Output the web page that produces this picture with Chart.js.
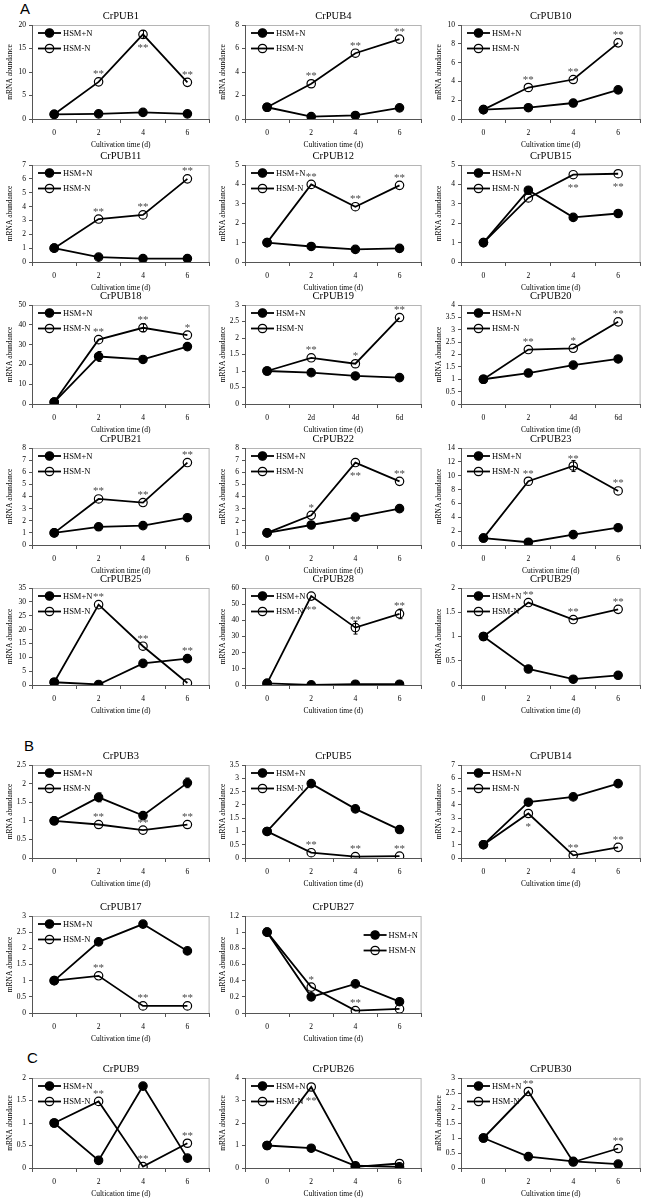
<!DOCTYPE html>
<html>
<head>
<meta charset="utf-8">
<script src="https://cdn.jsdelivr.net/npm/chart.js@4.4.1/dist/chart.umd.min.js"></script>
<style>
  body { margin: 0; background: #fff; }
  #page { position: relative; width: 647px; height: 1199px; overflow: hidden; background: #fff; }
  .panel { position: absolute; }
  .sec { position: absolute; font: 15px "Liberation Sans", Arial, sans-serif; line-height: 1; color: #000; }
</style>
</head>
<body>
<div id="page">
  <div class="sec" style="left:20px;top:1px">A</div>
  <div class="sec" style="left:24px;top:738px">B</div>
  <div class="sec" style="left:27px;top:1050px">C</div>
</div>
<script>
const days = ["0", "2", "4", "6"];
const days19 = ["0", "2d", "4d", "6d"];
const days20 = ["0", "2", "4d", "6d"];
const seriesNames = ["HSM+N", "HSM-N"];

// mean mRNA abundance, HSM+N (filled) and HSM-N (open)
const pub1Plus = [1, 1.1, 1.4, 1.1],     pub1Minus = [1, 7.9, 18, 7.8];
const pub4Plus = [1, 0.2, 0.3, 0.95],    pub4Minus = [1, 3, 5.6, 6.8];
const pub10Plus = [1, 1.2, 1.7, 3.1],    pub10Minus = [1, 3.35, 4.2, 8.1];
const pub11Plus = [1, 0.35, 0.25, 0.25], pub11Minus = [1, 3.1, 3.4, 6];
const pub12Plus = [1, 0.8, 0.65, 0.7],   pub12Minus = [1, 4, 2.85, 3.95];
const pub15Plus = [1, 3.7, 2.3, 2.5],    pub15Minus = [1, 3.3, 4.5, 4.55];
const pub18Plus = [1, 24, 22.5, 29],     pub18Minus = [1, 32.5, 38.5, 34.8];
const pub19Plus = [1, 0.95, 0.85, 0.8],  pub19Minus = [1, 1.4, 1.22, 2.62];
const pub20Plus = [1, 1.25, 1.57, 1.82], pub20Minus = [1, 2.2, 2.25, 3.32];
const pub21Plus = [1, 1.5, 1.6, 2.25],   pub21Minus = [1, 3.8, 3.5, 6.8];
const pub22Plus = [1, 1.65, 2.3, 3],     pub22Minus = [1, 2.45, 6.8, 5.25];
const pub23Plus = [1, 0.4, 1.5, 2.5],    pub23Minus = [1, 9.2, 11.4, 7.8];
const pub25Plus = [1, 0.2, 7.8, 9.5],    pub25Minus = [1, 29, 14, 0.7];
const pub28Plus = [1, 0.1, 0.5, 0.5],    pub28Minus = [1, 55, 35.5, 44];
const pub29Plus = [1, 0.33, 0.12, 0.2],  pub29Minus = [1, 1.7, 1.35, 1.56];
const pub3Plus = [1, 1.63, 1.14, 2.02],  pub3Minus = [1, 0.9, 0.75, 0.9];
const pub5Plus = [1, 2.8, 1.85, 1.07],   pub5Minus = [1, 0.2, 0.05, 0.07];
const pub14Plus = [1, 4.2, 4.6, 5.6],    pub14Minus = [1, 3.35, 0.2, 0.8];
const pub17Plus = [1, 2.2, 2.75, 1.92],  pub17Minus = [1, 1.15, 0.22, 0.22];
const pub27Plus = [1, 0.2, 0.36, 0.14],  pub27Minus = [1, 0.32, 0.03, 0.05];
const pub9Plus = [1, 0.17, 1.82, 0.22],  pub9Minus = [1, 1.48, 0.03, 0.55];
const pub26Plus = [1, 0.88, 0.1, 0.05],  pub26Minus = [1, 3.6, 0.05, 0.2];
const pub30Plus = [1, 0.38, 0.22, 0.13], pub30Minus = [1, 2.55, 0.2, 0.65];

// significance marks: [day index, mark, series (0 = +N, 1 = -N), above/below]
const pub1Sig = [[1, "**", 1, "up"], [2, "**", 1, "down"], [3, "**", 1, "up"]];
const pub4Sig = [[1, "**", 1, "up"], [2, "**", 1, "up"], [3, "**", 1, "up"]];
const pub10Sig = [[1, "**", 1, "up"], [2, "**", 1, "up"], [3, "**", 1, "up"]];
const pub11Sig = [[1, "**", 1, "up"], [2, "**", 1, "up"], [3, "**", 1, "up"]];
const pub12Sig = [[1, "**", 1, "up"], [2, "**", 1, "up"], [3, "**", 1, "up"]];
const pub15Sig = [[2, "**", 1, "down"], [3, "**", 1, "down"]];
const pub18Sig = [[1, "**", 1, "up"], [2, "**", 1, "up"], [3, "*", 1, "up"]];
const pub19Sig = [[1, "**", 1, "up"], [2, "*", 1, "up"], [3, "**", 1, "up"]];
const pub20Sig = [[1, "**", 1, "up"], [2, "*", 1, "up"], [3, "**", 1, "up"]];
const pub21Sig = [[1, "**", 1, "up"], [2, "**", 1, "up"], [3, "**", 1, "up"]];
const pub22Sig = [[1, "*", 1, "up"], [2, "**", 1, "down"], [3, "**", 1, "up"]];
const pub23Sig = [[1, "**", 1, "up"], [2, "**", 1, "up"], [3, "**", 1, "up"]];
const pub25Sig = [[1, "**", 1, "up"], [2, "**", 1, "up"], [3, "**", 0, "up"]];
const pub28Sig = [[1, "**", 1, "down"], [2, "**", 1, "up"], [3, "**", 1, "up"]];
const pub29Sig = [[1, "**", 1, "up"], [2, "**", 1, "up"], [3, "**", 1, "up"]];
const pub3Sig = [[1, "**", 1, "up"], [2, "**", 1, "up"], [3, "**", 1, "up"]];
const pub5Sig = [[1, "**", 1, "up"], [2, "**", 1, "up"], [3, "**", 1, "up"]];
const pub14Sig = [[1, "*", 1, "down"], [2, "**", 1, "up"], [3, "**", 1, "up"]];
const pub17Sig = [[1, "**", 1, "up"], [2, "**", 1, "up"], [3, "**", 1, "up"]];
const pub27Sig = [[1, "*", 1, "up"], [2, "**", 1, "up"]];
const pub9Sig = [[1, "**", 1, "up"], [2, "**", 1, "up"], [3, "**", 1, "up"]];
const pub26Sig = [[1, "**", 1, "down"]];
const pub30Sig = [[1, "**", 1, "up"], [3, "**", 1, "up"]];

// visible error bars: [day index, series, +/- value]
const pub1Err = [[2, 1, 0.8]];
const pub18Err = [[1, 0, 2.5], [2, 1, 2]];
const pub23Err = [[2, 1, 0.8]];
const pub28Err = [[2, 1, 4], [3, 1, 3]];
const pub3Err = [[1, 0, 0.12], [3, 0, 0.13]];
const pub5Err = [[2, 0, 0.12]];

// plot-area boxes on the page
const cols = [[32, 212], [245, 424], [461, 643]];
const rows = [[25, 119], [165, 262], [305, 404], [448, 545], [588, 685], [765, 858], [916, 1013], [1078, 1168]];

const XT = "Cultivation time (d)";
const panels = [
  { name: "CrPUB1", r: 0, c: 0, max: 20, step: 5, labels: days, plus: pub1Plus, minus: pub1Minus, sig: pub1Sig, err: pub1Err },
  { name: "CrPUB4", r: 0, c: 1, max: 8, step: 1, labels: days, plus: pub4Plus, minus: pub4Minus, sig: pub4Sig },
  { name: "CrPUB10", r: 0, c: 2, max: 10, step: 2, labels: days, plus: pub10Plus, minus: pub10Minus, sig: pub10Sig },
  { name: "CrPUB11", r: 1, c: 0, max: 7, step: 1, labels: days, plus: pub11Plus, minus: pub11Minus, sig: pub11Sig },
  { name: "CrPUB12", r: 1, c: 1, max: 5, step: 1, labels: days, plus: pub12Plus, minus: pub12Minus, sig: pub12Sig },
  { name: "CrPUB15", r: 1, c: 2, max: 5, step: 1, labels: days, plus: pub15Plus, minus: pub15Minus, sig: pub15Sig },
  { name: "CrPUB18", r: 2, c: 0, max: 50, step: 10, labels: days, plus: pub18Plus, minus: pub18Minus, sig: pub18Sig, err: pub18Err },
  { name: "CrPUB19", r: 2, c: 1, max: 3, step: 0.5, labels: days19, plus: pub19Plus, minus: pub19Minus, sig: pub19Sig },
  { name: "CrPUB20", r: 2, c: 2, max: 4, step: 0.5, labels: days20, plus: pub20Plus, minus: pub20Minus, sig: pub20Sig },
  { name: "CrPUB21", r: 3, c: 0, max: 8, step: 1, labels: days, plus: pub21Plus, minus: pub21Minus, sig: pub21Sig },
  { name: "CrPUB22", r: 3, c: 1, max: 8, step: 1, labels: days, plus: pub22Plus, minus: pub22Minus, sig: pub22Sig },
  { name: "CrPUB23", r: 3, c: 2, max: 14, step: 2, labels: days, plus: pub23Plus, minus: pub23Minus, sig: pub23Sig, err: pub23Err, xt: "Cutivation time (d)" },
  { name: "CrPUB25", r: 4, c: 0, max: 35, step: 5, labels: days, plus: pub25Plus, minus: pub25Minus, sig: pub25Sig },
  { name: "CrPUB28", r: 4, c: 1, max: 60, step: 10, labels: days, plus: pub28Plus, minus: pub28Minus, sig: pub28Sig, err: pub28Err },
  { name: "CrPUB29", r: 4, c: 2, max: 2, step: 0.5, labels: days, plus: pub29Plus, minus: pub29Minus, sig: pub29Sig },
  { name: "CrPUB3", r: 5, c: 0, max: 2.5, step: 0.5, labels: days, plus: pub3Plus, minus: pub3Minus, sig: pub3Sig, err: pub3Err },
  { name: "CrPUB5", r: 5, c: 1, max: 3.5, step: 0.5, labels: days, plus: pub5Plus, minus: pub5Minus, sig: pub5Sig, err: pub5Err },
  { name: "CrPUB14", r: 5, c: 2, max: 7, step: 1, labels: days, plus: pub14Plus, minus: pub14Minus, sig: pub14Sig },
  { name: "CrPUB17", r: 6, c: 0, max: 3, step: 0.5, labels: days, plus: pub17Plus, minus: pub17Minus, sig: pub17Sig },
  { name: "CrPUB27", r: 6, c: 1, max: 1.2, step: 0.2, labels: days, plus: pub27Plus, minus: pub27Minus, sig: pub27Sig, legendRight: true },
  { name: "CrPUB9", r: 7, c: 0, max: 2, step: 0.5, labels: days, plus: pub9Plus, minus: pub9Minus, sig: pub9Sig, xt: "Cultication time (d)" },
  { name: "CrPUB26", r: 7, c: 1, max: 4, step: 0.5, labels: days, plus: pub26Plus, minus: pub26Minus, sig: pub26Sig },
  { name: "CrPUB30", r: 7, c: 2, max: 3, step: 0.5, labels: days, plus: pub30Plus, minus: pub30Minus, sig: pub30Sig }
];

const SERIF = "'Liberation Serif', 'Times New Roman', serif";
const LEFT_W = 31, TOP_H = 22, BOTTOM_H = 32, RIGHT_W = 3;

function marker(ctx, x, y, filled) {
  ctx.beginPath();
  ctx.arc(x, y, 4.2, 0, Math.PI * 2);
  if (filled) { ctx.fillStyle = "#000"; ctx.fill(); }
  ctx.lineWidth = 1.2;
  ctx.strokeStyle = "#000";
  ctx.stroke();
}

const decor = {
  id: "decor",
  beforeDraw(chart) {
    const { ctx, chartArea: a } = chart;
    ctx.save();
    ctx.strokeStyle = "#b5b5b5";
    ctx.lineWidth = 1;
    ctx.strokeRect(a.left + 0.5, a.top + 0.5, a.right - a.left - 1, a.bottom - a.top);
    ctx.restore();
  },
  afterDatasetsDraw(chart) {
    const { ctx, chartArea: a } = chart;
    const p = chart.options.plugins.decor.panel;
    const xs = chart.scales.x, ys = chart.scales.y;
    ctx.save();
    // error bars
    ctx.strokeStyle = "#000";
    ctx.lineWidth = 1;
    (p.err || []).forEach(([i, s, e]) => {
      const v = (s === 0 ? p.plus : p.minus)[i];
      const px = Math.round(xs.getPixelForValue(i)) + 0.5;
      const top = ys.getPixelForValue(v + e), bot = ys.getPixelForValue(v - e);
      ctx.beginPath();
      ctx.moveTo(px, top); ctx.lineTo(px, bot);
      ctx.moveTo(px - 2, top); ctx.lineTo(px + 2, top);
      ctx.moveTo(px - 2, bot); ctx.lineTo(px + 2, bot);
      ctx.stroke();
    });
    // title
    ctx.fillStyle = "#000";
    ctx.font = "10.5px " + SERIF;
    ctx.textAlign = "center";
    ctx.textBaseline = "middle";
    ctx.fillText(p.name, (a.left + a.right) / 2, a.top - 9);
    // axis titles
    ctx.font = "7.5px " + SERIF;
    ctx.fillText(p.xt || XT, (a.left + a.right) / 2, a.bottom + 26);
    ctx.save();
    ctx.translate(a.left - 22, (a.top + a.bottom) / 2);
    ctx.rotate(-Math.PI / 2);
    ctx.fillText("mRNA abundance", 0, 0);
    ctx.restore();
    // legend inside the plot
    const lx = p.legendRight ? a.right - 58 : a.left + 6;
    const ly = p.legendRight ? a.top + 19 : a.top + 8;
    ctx.font = "8.5px " + SERIF;
    ctx.textAlign = "left";
    seriesNames.forEach((nm, i) => {
      const y = ly + i * 15.5;
      ctx.strokeStyle = "#000";
      ctx.lineWidth = 1.8;
      ctx.beginPath();
      ctx.moveTo(lx, y);
      ctx.lineTo(lx + 23, y);
      ctx.stroke();
      marker(ctx, lx + 11.5, y, i === 0);
      ctx.fillStyle = "#000";
      ctx.fillText(nm, lx + 25, y + 0.5);
    });
    // significance asterisks
    ctx.font = "11px " + SERIF;
    ctx.textAlign = "center";
    ctx.textBaseline = "alphabetic";
    ctx.fillStyle = "#4a4a4a";
    p.sig.forEach(([i, mark, s, side]) => {
      const v = (s === 0 ? p.plus : p.minus)[i];
      const px = xs.getPixelForValue(i);
      const py = ys.getPixelForValue(v);
      ctx.fillText(mark, px, side === "up" ? py - 4.5 : py + 16.5);
    });
    ctx.restore();
  }
};

const page = document.getElementById("page");
panels.forEach(p => {
  const [x0, x1] = cols[p.c];
  const [y0, y1] = rows[p.r];
  const w = x1 - x0 + LEFT_W + RIGHT_W;
  const h = y1 - y0 + TOP_H + BOTTOM_H;
  const cv = document.createElement("canvas");
  cv.className = "panel";
  cv.width = w; cv.height = h;
  cv.style.left = (x0 - LEFT_W) + "px";
  cv.style.top = (y0 - TOP_H) + "px";
  cv.style.width = w + "px";
  cv.style.height = h + "px";
  page.appendChild(cv);

  const line = { borderColor: "#000", borderWidth: 1.8, pointRadius: 4.2, pointBorderColor: "#000", pointBorderWidth: 1.2, tension: 0 };
  new Chart(cv, {
    type: "line",
    data: {
      labels: p.labels,
      datasets: [
        { ...line, label: seriesNames[0], data: p.plus, pointBackgroundColor: "#000" },
        { ...line, label: seriesNames[1], data: p.minus, pointBackgroundColor: "rgba(0,0,0,0)" }
      ]
    },
    options: {
      responsive: false,
      animation: false,
      devicePixelRatio: 1,
      layout: { padding: { top: TOP_H, right: RIGHT_W, left: 0, bottom: 0 } },
      plugins: { legend: { display: false }, tooltip: { enabled: false }, title: { display: false }, decor: { panel: p } },
      scales: {
        x: {
          offset: true,
          grid: { offset: true, drawOnChartArea: false, tickLength: 4, color: "#555" },
          border: { color: "#555", width: 1 },
          ticks: { font: { family: SERIF, size: 7.5 }, color: "#000", padding: 6, maxRotation: 0, autoSkip: false },
          afterFit: s => { s.height = BOTTOM_H; }
        },
        y: {
          min: 0, max: p.max,
          grid: { drawOnChartArea: false, tickLength: 3, color: "#555" },
          border: { color: "#555", width: 1 },
          ticks: {
            stepSize: p.step, font: { family: SERIF, size: 7.5 }, color: "#000", padding: 3,
            callback: v => String(Math.round(v * 100) / 100)
          },
          afterFit: s => { s.width = LEFT_W; }
        }
      }
    },
    plugins: [decor]
  });
});
</script>
</body>
</html>
